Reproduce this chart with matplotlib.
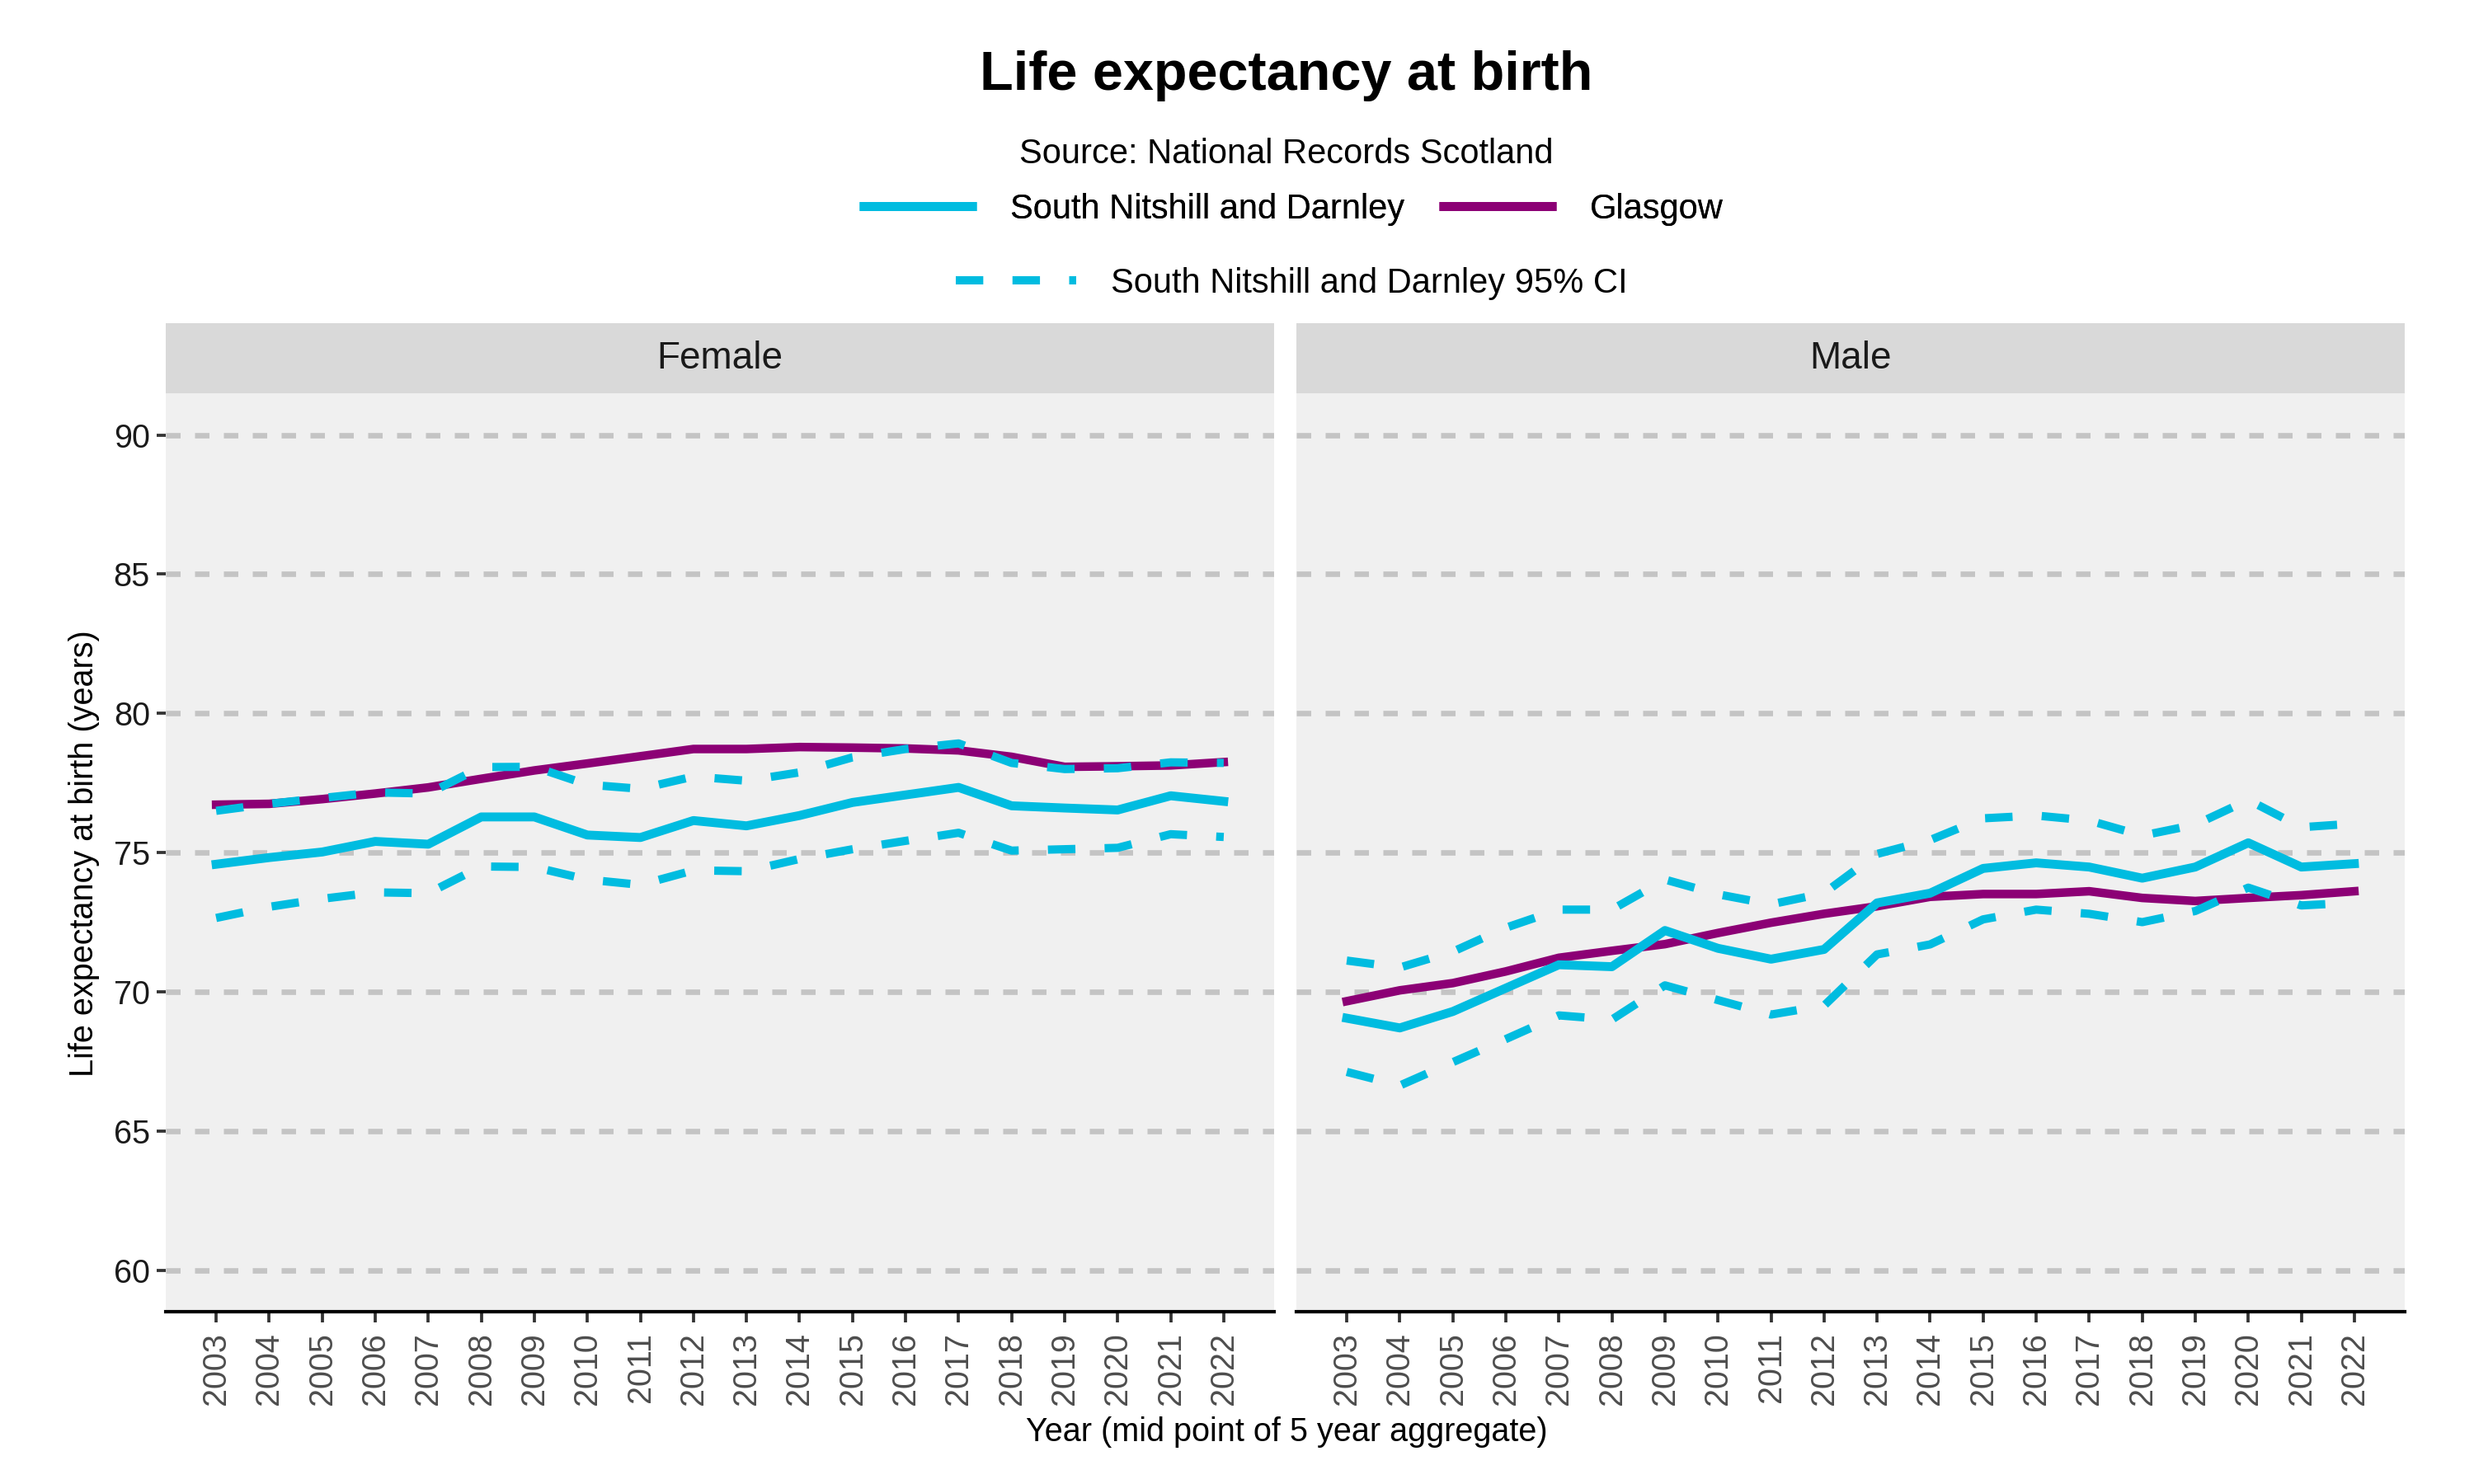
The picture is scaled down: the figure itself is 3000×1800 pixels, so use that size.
import numpy as np
import matplotlib
matplotlib.use("Agg")
import matplotlib.pyplot as plt
from matplotlib.lines import Line2D

plt.rcParams['font.family'] = ['Liberation Sans', 'DejaVu Sans']
plt.rcParams['lines.scale_dashes'] = False

years = list(range(2003, 2023))

# Female
f_area = [74.58, 74.82, 75.02, 75.40, 75.30, 76.28, 76.28, 75.63, 75.54, 76.15,
          75.96, 76.33, 76.80, 77.07, 77.34, 76.68, 76.60, 76.53, 77.04, 76.84]
f_glasgow = [76.72, 76.75, 76.92, 77.12, 77.34, 77.65, 77.95, 78.20, 78.46, 78.72,
             78.72, 78.79, 78.77, 78.74, 78.67, 78.44, 78.08, 78.10, 78.13, 78.25]
f_upper = [76.50, 76.75, 76.96, 77.16, 77.12, 78.07, 78.08, 77.44, 77.29, 77.73,
           77.58, 77.88, 78.42, 78.72, 78.92, 78.22, 78.00, 78.03, 78.24, 78.22]
f_lower = [72.65, 73.05, 73.34, 73.57, 73.54, 74.50, 74.48, 74.03, 73.84, 74.36,
           74.33, 74.77, 75.12, 75.42, 75.71, 75.07, 75.12, 75.17, 75.66, 75.56]

# Male
m_area = [69.05, 68.70, 69.29, 70.13, 70.97, 70.90, 72.20, 71.56, 71.17, 71.52,
          73.19, 73.54, 74.43, 74.63, 74.48, 74.08, 74.48, 75.35, 74.48, 74.60]
m_glasgow = [69.66, 70.05, 70.31, 70.73, 71.22, 71.47, 71.71, 72.11, 72.48, 72.80,
             73.07, 73.41, 73.51, 73.51, 73.61, 73.37, 73.26, 73.37, 73.47, 73.61]
m_upper = [71.12, 70.87, 71.44, 72.30, 72.95, 72.95, 74.03, 73.50, 73.14, 73.54,
           74.95, 75.45, 76.23, 76.33, 76.15, 75.61, 76.00, 76.89, 75.91, 76.04]
m_lower = [67.12, 66.63, 67.47, 68.30, 69.15, 69.00, 70.23, 69.70, 69.18, 69.50,
           71.34, 71.70, 72.60, 72.95, 72.80, 72.50, 72.90, 73.74, 73.10, 73.20]

panels = ['Female', 'Male']
area_vals = [f_area, m_area]
glasgow_vals = [f_glasgow, m_glasgow]
upper_vals = [f_upper, m_upper]
lower_vals = [f_lower, m_lower]
y_ticks = [60, 65, 70, 75, 80, 85, 90]

area_name = 'South Nitshill and Darnley'
cyan = '#00BCE0'
purple = '#8C0075'
ci_style = (0, (8, 8.5))

fig = plt.figure(figsize=(10, 6), dpi=300)

left_edges = [0.067, 0.524]
width = 0.448
bottom = 0.116
height = 0.619
strip_h = 0.047

for i, name in enumerate(panels):
    ax = fig.add_axes([left_edges[i], bottom, width, height])
    ax.set_facecolor('#F0F0F0')
    for y in y_ticks:
        ax.axhline(y, color='#C4C4C4', lw=1.6, ls=(0, (4.2, 4.2)), zorder=1)
    ax.plot(years, upper_vals[i], color=cyan, lw=2.4, ls=ci_style, zorder=3)
    ax.plot(years, lower_vals[i], color=cyan, lw=2.4, ls=ci_style, zorder=3)
    ax.plot(years, glasgow_vals[i], color=purple, lw=2.5, zorder=2)
    ax.plot(years, area_vals[i], color=cyan, lw=2.6, zorder=4)
    ax.set_xlim(2002.05, 2022.95)
    ax.set_ylim(58.5, 91.5)
    ax.set_xticks(years)
    ax.set_xticklabels([str(y) for y in years], rotation=90, fontsize=9.5, color='#4D4D4D')
    ax.tick_params(axis='x', length=3, width=0.9, color='#333333', pad=3)
    ax.set_yticks(y_ticks)
    if i == 0:
        ax.set_yticklabels([str(y) for y in y_ticks], fontsize=9.5, color='#1A1A1A')
        ax.tick_params(axis='y', length=2.6, width=0.9, color='#333333', pad=2)
    else:
        ax.tick_params(axis='y', length=0, labelleft=False)
    for s in ['top', 'right', 'left']:
        ax.spines[s].set_visible(False)
    ax.spines['bottom'].set_color('black')
    ax.spines['bottom'].set_linewidth(1.0)

    sax = fig.add_axes([left_edges[i], bottom + height, width, strip_h])
    sax.set_facecolor('#D9D9D9')
    sax.set_xticks([])
    sax.set_yticks([])
    for s in sax.spines.values():
        s.set_visible(False)
    sax.text(0.5, 0.5, name, ha='center', va='center', fontsize=11,
             color='#1A1A1A', transform=sax.transAxes)

fig.text(0.52, 0.949, 'Life expectancy at birth', ha='center', va='center',
         fontsize=16, fontweight='bold')
fig.text(0.52, 0.896, 'Source: National Records Scotland', ha='center', va='center',
         fontsize=10)

h1 = [Line2D([], [], color=cyan, lw=2.6, solid_capstyle='butt'),
      Line2D([], [], color=purple, lw=2.6, solid_capstyle='butt')]
leg1 = fig.legend(h1, [area_name, 'Glasgow'], loc='center', bbox_to_anchor=(0.522, 0.859),
                  ncol=2, frameon=False, fontsize=10, handlelength=3.4,
                  handletextpad=1.0, columnspacing=1.0)
fig.add_artist(leg1)
h2 = [Line2D([], [], color=cyan, lw=2.4, ls=ci_style)]
fig.legend(h2, [area_name + ' 95% CI'], loc='center', bbox_to_anchor=(0.522, 0.809),
           frameon=False, fontsize=10, handlelength=3.5, handletextpad=1.0)

fig.text(0.52, 0.035, 'Year (mid point of 5 year aggregate)', ha='center', va='center',
         fontsize=9.5)
fig.text(0.034, 0.425, 'Life expectancy at birth (years)', ha='center', va='center',
         rotation=90, fontsize=9.5)

fig.savefig('out.png', dpi=300, facecolor='white')
